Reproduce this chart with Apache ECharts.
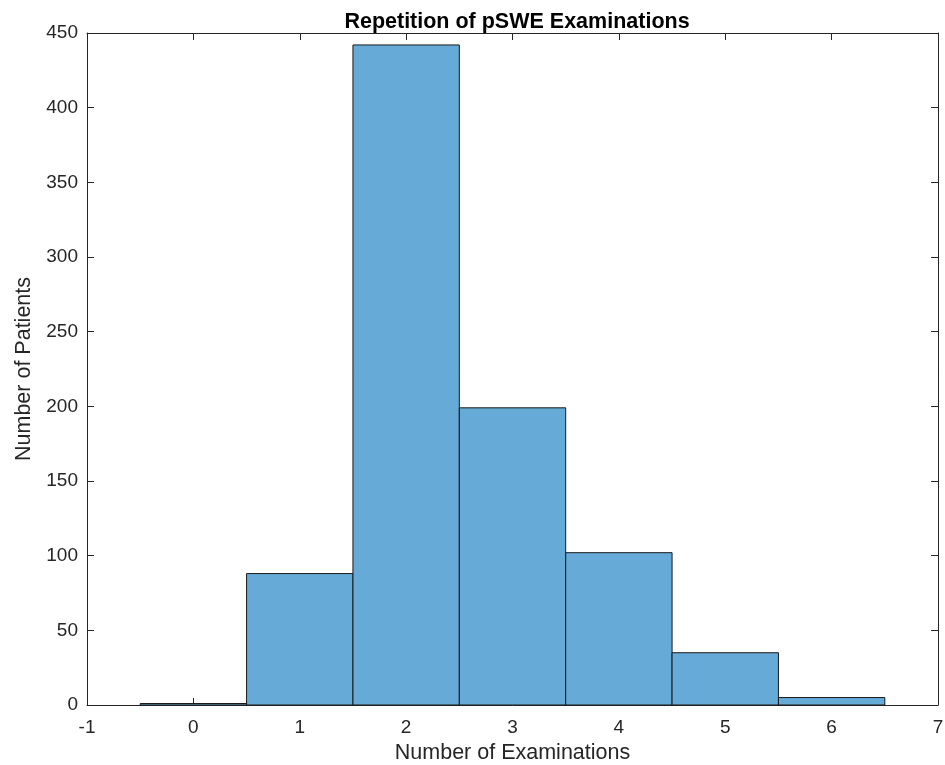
<!DOCTYPE html>
<html><head><meta charset="utf-8">
<script src="https://cdn.jsdelivr.net/npm/echarts@6/dist/echarts.min.js"></script>
<style>html,body{margin:0;padding:0;background:#fff}#c{width:945px;height:765px}</style>
</head><body><div id="c"></div>
<script>
const categories = [0, 1, 2, 3, 4, 5, 6];
const counts = [1, 88, 442, 199, 102, 35, 5];
const xTicks = [-1, 0, 1, 2, 3, 4, 5, 6, 7];
const yTicks = [0, 50, 100, 150, 200, 250, 300, 350, 400, 450];

const font = 'Liberation Sans, Helvetica, Arial, sans-serif';
const chart = echarts.init(document.getElementById('c'));
const data = categories.map((c, i) => [c, counts[i]]);
const tickStyle = {show: true, inside: true, length: 7, lineStyle: {color: '#262626', width: 1}};
const lineStyle = {show: true, onZero: false, lineStyle: {color: '#262626', width: 1}};
chart.setOption({
  animation: false,
  title: {text: 'Repetition of pSWE Examinations', left: 512, textAlign: 'center', top: 6,
    textStyle: {fontFamily: font, fontWeight: 'bold', fontSize: 21.5, color: '#000'}},
  grid: {left: 87, right: 7, top: 33, bottom: 60, show: false, containLabel: false, outerBoundsMode: 'none'},
  xAxis: [{
    type: 'value', min: xTicks[0], max: xTicks[xTicks.length-1], interval: 1,
    position: 'bottom',
    name: 'Number of Examinations', nameLocation: 'middle', nameGap: 37,
    nameTextStyle: {fontFamily: font, fontSize: 21.5, color: '#262626'},
    axisLine: lineStyle, axisTick: tickStyle, splitLine: {show: false},
    axisLabel: {fontFamily: font, fontSize: 19, color: '#262626', margin: 13}
  }, {
    type: 'value', min: xTicks[0], max: xTicks[xTicks.length-1], interval: 1,
    position: 'top', axisLine: lineStyle, axisTick: tickStyle, splitLine: {show: false},
    axisLabel: {show: false}
  }],
  yAxis: [{
    type: 'value', min: yTicks[0], max: yTicks[yTicks.length-1], interval: 50,
    position: 'left',
    name: 'Number of Patients', nameLocation: 'middle', nameGap: 50,
    nameTextStyle: {fontFamily: font, fontSize: 21.5, color: '#262626'},
    axisLine: lineStyle, axisTick: tickStyle, splitLine: {show: false},
    axisLabel: {fontFamily: font, fontSize: 19, color: '#262626', margin: 9}
  }, {
    type: 'value', min: yTicks[0], max: yTicks[yTicks.length-1], interval: 50,
    position: 'right', axisLine: lineStyle, axisTick: tickStyle, splitLine: {show: false},
    axisLabel: {show: false}
  }],
  series: [{
    type: 'custom',
    data: data,
    renderItem: function (params, api) {
      const x = api.value(0), y = api.value(1);
      const p0 = api.coord([x - 0.5, 0]);
      const p1 = api.coord([x + 0.5, y]);
      return {
        type: 'rect',
        shape: {x: p0[0], y: p1[1], width: p1[0] - p0[0], height: p0[1] - p1[1]},
        style: {fill: '#66AAD7', stroke: '#1a1a1a', lineWidth: 1}
      };
    },
    z: 1
  }]
});
</script></body></html>
